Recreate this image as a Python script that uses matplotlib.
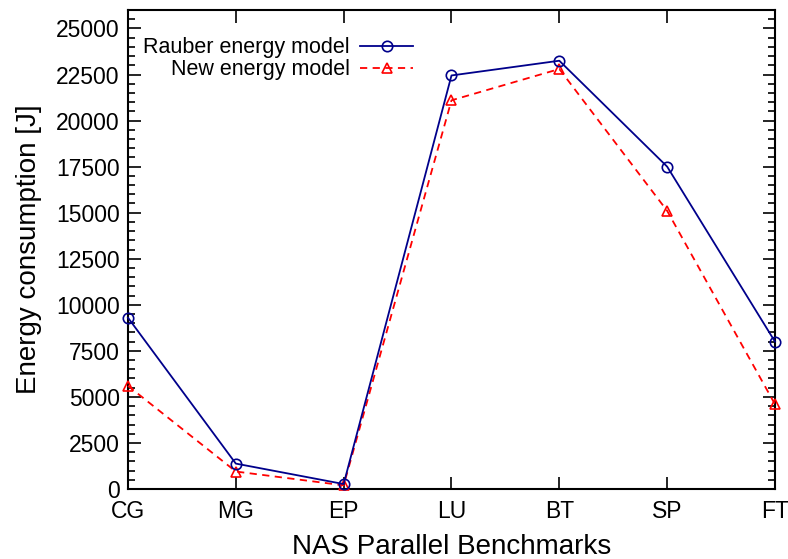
import matplotlib
matplotlib.use("Agg")
import matplotlib.pyplot as plt
from matplotlib.ticker import MultipleLocator

plt.rcParams['font.family'] = ['Liberation Sans', 'DejaVu Sans']

benchmarks = ['CG', 'MG', 'EP', 'LU', 'BT', 'SP', 'FT']
rauber = [9300, 1380, 270, 22450, 23250, 17500, 8000]
new_model = [5600, 950, 200, 21100, 22800, 15100, 4600]


def main():
  fig = plt.figure(figsize=(7.88, 5.59), dpi=100)
  ax = fig.add_axes([0.1624, 0.1252, 0.8211, 0.8568])
  x = list(range(len(benchmarks)))

  ax.plot(x, rauber, color='#00008b', lw=1.3, marker='o', ms=7.5,
          mfc='none', mec='#00008b', mew=1.2, label='Rauber energy model',
          clip_on=False, zorder=4)
  ax.plot(x, new_model, color='#ff0000', lw=1.3, ls=(0, (4, 3)), marker='^',
          ms=7, mfc='none', mec='#ff0000', mew=1.2,
          label='New energy model', clip_on=False, zorder=3)

  ax.set_xlim(0, len(benchmarks) - 1)
  ax.set_ylim(0, 26000)
  ax.set_xticks(x)
  ax.set_xticklabels(benchmarks)
  ax.yaxis.set_major_locator(MultipleLocator(2500))
  ax.yaxis.set_minor_locator(MultipleLocator(500))
  ax.tick_params(axis='both', which='major', direction='in', length=9,
                 width=1.2, labelsize=16.5, top=True, right=True)
  ax.tick_params(axis='y', which='minor', direction='in', length=5,
                 width=1.2, right=True)
  ax.tick_params(axis='x', pad=8)
  ax.tick_params(axis='y', pad=6)
  for s in ax.spines.values():
    s.set_linewidth(1.5)

  ax.set_xlabel('NAS Parallel Benchmarks', fontsize=20, labelpad=8)
  ax.set_ylabel('Energy consumption [J]', fontsize=20, labelpad=10)

  ax.legend(loc='upper left', bbox_to_anchor=(0.0, 0.975), frameon=False,
            markerfirst=False, fontsize=15.5, handlelength=2.45,
            handletextpad=0.5, labelspacing=0.05, borderaxespad=0.3)

  fig.savefig('out.png', dpi=100)


if __name__ == '__main__':
  main()
